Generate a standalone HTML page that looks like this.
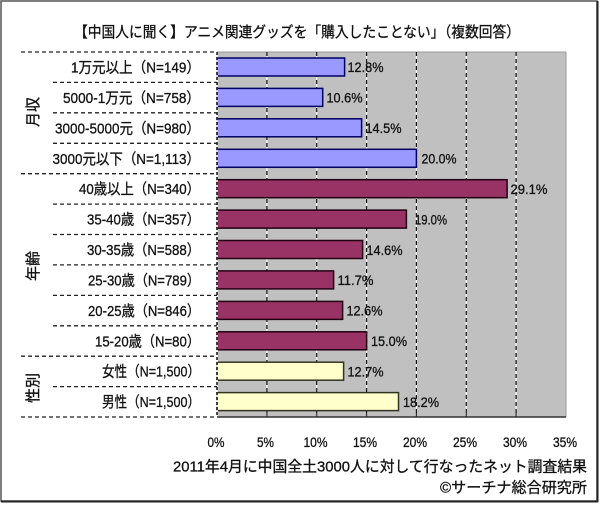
<!DOCTYPE html>
<html><head><meta charset="utf-8"><style>
html,body{margin:0;padding:0;background:#fff;}
svg{display:block;}
text{font-family:"Liberation Sans","Noto Sans CJK JP",sans-serif;fill:#111;stroke:#111;stroke-width:0.3;}
</style></head><body>
<svg width="600" height="505" viewBox="0 0 600 505" xmlns="http://www.w3.org/2000/svg">
<rect x="0" y="0" width="600" height="505" fill="#fff"/>
<!-- outer frame -->
<rect x="1" y="1" width="596" height="500" fill="none" stroke="#555" stroke-width="1.5"/>
<line x1="597.5" y1="1" x2="597.5" y2="502" stroke="#222" stroke-width="2"/>
<line x1="1" y1="501.5" x2="598" y2="501.5" stroke="#222" stroke-width="2"/>

<!-- title -->
<text x="74" y="37" font-size="15" textLength="446" lengthAdjust="spacingAndGlyphs">【中国人に聞く】アニメ関連グッズを「購入したことない」（複数回答）</text>

<!-- plot background -->
<rect x="217" y="52" width="349" height="365" fill="#c0c0c0"/>
<line x1="217" y1="52" x2="566" y2="52" stroke="#9a9a9a" stroke-width="1"/>
<line x1="566" y1="52" x2="566" y2="417" stroke="#9a9a9a" stroke-width="1"/>

<!-- gridlines -->
<g stroke-width="1.2">
<g stroke="#fff">
<line x1="266.9" y1="52" x2="266.9" y2="417"/>
<line x1="316.7" y1="52" x2="316.7" y2="417"/>
<line x1="366.6" y1="52" x2="366.6" y2="417"/>
<line x1="416.4" y1="52" x2="416.4" y2="417"/>
<line x1="466.3" y1="52" x2="466.3" y2="417"/>
<line x1="516.1" y1="52" x2="516.1" y2="417"/>
</g>
<g stroke="#111" stroke-dasharray="4,3">
<line x1="266.9" y1="52" x2="266.9" y2="417"/>
<line x1="316.7" y1="52" x2="316.7" y2="417"/>
<line x1="366.6" y1="52" x2="366.6" y2="417"/>
<line x1="416.4" y1="52" x2="416.4" y2="417"/>
<line x1="466.3" y1="52" x2="466.3" y2="417"/>
<line x1="516.1" y1="52" x2="516.1" y2="417"/>
</g>
</g>

<!-- bars -->
<g stroke-width="1.5">
<rect x="217" y="58" width="127.6" height="18" fill="#9999ff" stroke="#000060"/>
<rect x="217" y="88.4" width="105.7" height="18" fill="#9999ff" stroke="#000060"/>
<rect x="217" y="118.8" width="144.6" height="18" fill="#9999ff" stroke="#000060"/>
<rect x="217" y="149.3" width="199.4" height="18" fill="#9999ff" stroke="#000060"/>
<rect x="217" y="179.7" width="290.1" height="18" fill="#993366" stroke="#220011"/>
<rect x="217" y="210.1" width="189.4" height="18" fill="#993366" stroke="#220011"/>
<rect x="217" y="240.5" width="145.6" height="18" fill="#993366" stroke="#220011"/>
<rect x="217" y="270.9" width="116.6" height="18" fill="#993366" stroke="#220011"/>
<rect x="217" y="301.4" width="125.6" height="18" fill="#993366" stroke="#220011"/>
<rect x="217" y="331.8" width="149.6" height="18" fill="#993366" stroke="#220011"/>
<rect x="217" y="362.2" width="126.6" height="18" fill="#ffffcc" stroke="#333322"/>
<rect x="217" y="392.6" width="181.5" height="18" fill="#ffffcc" stroke="#333322"/>
</g>

<!-- left axis -->
<line x1="217" y1="52" x2="217" y2="417" stroke="#fff" stroke-width="1.5"/>
<line x1="217" y1="52" x2="217" y2="417" stroke="#111" stroke-width="1.5" stroke-dasharray="3,2"/>

<!-- bottom axis -->
<line x1="217" y1="417" x2="566" y2="417" stroke="#333" stroke-width="1.5"/>
<g stroke="#333" stroke-width="1.2">
<line x1="266.9" y1="413" x2="266.9" y2="417"/>
<line x1="316.7" y1="413" x2="316.7" y2="417"/>
<line x1="366.6" y1="413" x2="366.6" y2="417"/>
<line x1="416.4" y1="413" x2="416.4" y2="417"/>
<line x1="466.3" y1="413" x2="466.3" y2="417"/>
<line x1="516.1" y1="413" x2="516.1" y2="417"/>
</g>

<!-- separators -->
<g stroke="#222" stroke-width="1.3" stroke-dasharray="4,3">
<line x1="21" y1="52" x2="217" y2="52"/>
<line x1="53" y1="82.4" x2="217" y2="82.4"/>
<line x1="53" y1="112.8" x2="217" y2="112.8"/>
<line x1="53" y1="143.3" x2="217" y2="143.3"/>
<line x1="21" y1="173.7" x2="217" y2="173.7"/>
<line x1="53" y1="204.1" x2="217" y2="204.1"/>
<line x1="53" y1="234.5" x2="217" y2="234.5"/>
<line x1="53" y1="264.9" x2="217" y2="264.9"/>
<line x1="53" y1="295.4" x2="217" y2="295.4"/>
<line x1="53" y1="325.8" x2="217" y2="325.8"/>
<line x1="21" y1="356.2" x2="217" y2="356.2"/>
<line x1="53" y1="386.6" x2="217" y2="386.6"/>
<line x1="21" y1="417" x2="217" y2="417"/>
</g>

<!-- group labels -->
<text transform="translate(38,112) rotate(-90)" font-size="15" text-anchor="middle">月収</text>
<text transform="translate(38,266) rotate(-90)" font-size="15" text-anchor="middle">年齢</text>
<text transform="translate(38,388) rotate(-90)" font-size="15" text-anchor="middle">性別</text>

<!-- category labels -->
<g font-size="15">
<text x="71" y="72.5" textLength="129" lengthAdjust="spacingAndGlyphs">1万元以上（N=149）</text>
<text x="63" y="103" textLength="137" lengthAdjust="spacingAndGlyphs">5000-1万元（N=758）</text>
<text x="55" y="133.4" textLength="145" lengthAdjust="spacingAndGlyphs">3000-5000元（N=980）</text>
<text x="52.5" y="163.8" textLength="147.5" lengthAdjust="spacingAndGlyphs">3000元以下（N=1,113）</text>
<text x="79" y="194.2" textLength="121" lengthAdjust="spacingAndGlyphs">40歳以上（N=340）</text>
<text x="87" y="224.6" textLength="113" lengthAdjust="spacingAndGlyphs">35-40歳（N=357）</text>
<text x="87" y="255" textLength="113" lengthAdjust="spacingAndGlyphs">30-35歳（N=588）</text>
<text x="88" y="285.5" textLength="112" lengthAdjust="spacingAndGlyphs">25-30歳（N=789）</text>
<text x="88" y="315.9" textLength="112" lengthAdjust="spacingAndGlyphs">20-25歳（N=846）</text>
<text x="95" y="346.3" textLength="105" lengthAdjust="spacingAndGlyphs">15-20歳（N=80）</text>
<text x="102" y="376.7" textLength="98" lengthAdjust="spacingAndGlyphs">女性（N=1,500）</text>
<text x="102" y="407.2" textLength="98" lengthAdjust="spacingAndGlyphs">男性（N=1,500）</text>
</g>

<!-- value labels -->
<g font-size="14">
<text x="347.5" y="72.2" textLength="36" lengthAdjust="spacingAndGlyphs">12.8%</text>
<text x="326.5" y="102.6" textLength="36" lengthAdjust="spacingAndGlyphs">10.6%</text>
<text x="365.5" y="133.1" textLength="36" lengthAdjust="spacingAndGlyphs">14.5%</text>
<text x="421.5" y="163.5" textLength="35" lengthAdjust="spacingAndGlyphs">20.0%</text>
<text x="510.5" y="193.9" textLength="37" lengthAdjust="spacingAndGlyphs">29.1%</text>
<text x="415" y="224.3" textLength="32" lengthAdjust="spacingAndGlyphs">19.0%</text>
<text x="366.5" y="254.8" textLength="36" lengthAdjust="spacingAndGlyphs">14.6%</text>
<text x="337.5" y="285.2" textLength="36" lengthAdjust="spacingAndGlyphs">11.7%</text>
<text x="346.5" y="315.6" textLength="36" lengthAdjust="spacingAndGlyphs">12.6%</text>
<text x="371" y="346" textLength="36" lengthAdjust="spacingAndGlyphs">15.0%</text>
<text x="347.5" y="376.4" textLength="36" lengthAdjust="spacingAndGlyphs">12.7%</text>
<text x="403" y="406.9" textLength="36" lengthAdjust="spacingAndGlyphs">18.2%</text>
</g>

<!-- tick labels -->
<g font-size="14">
<text x="207.5" y="447" textLength="17" lengthAdjust="spacingAndGlyphs">0%</text>
<text x="257" y="447" textLength="17" lengthAdjust="spacingAndGlyphs">5%</text>
<text x="303.5" y="447" textLength="24" lengthAdjust="spacingAndGlyphs">10%</text>
<text x="353" y="447" textLength="24" lengthAdjust="spacingAndGlyphs">15%</text>
<text x="403" y="447" textLength="24" lengthAdjust="spacingAndGlyphs">20%</text>
<text x="453" y="447" textLength="24" lengthAdjust="spacingAndGlyphs">25%</text>
<text x="503" y="447" textLength="24" lengthAdjust="spacingAndGlyphs">30%</text>
<text x="553" y="447" textLength="24" lengthAdjust="spacingAndGlyphs">35%</text>
</g>

<!-- footer -->
<text x="173" y="471.5" font-size="15" textLength="414" lengthAdjust="spacingAndGlyphs">2011年4月に中国全土3000人に対して行なったネット調査結果</text>
<text x="440" y="492.5" font-size="15" textLength="147" lengthAdjust="spacingAndGlyphs">©サーチナ総合研究所</text>
</svg>
</body></html>
